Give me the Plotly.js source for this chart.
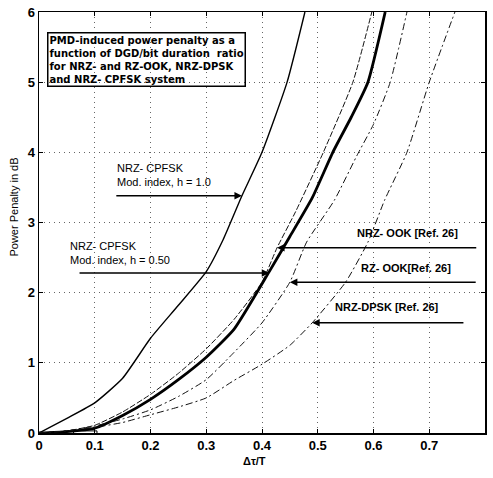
<!DOCTYPE html>
<html>
<head>
<meta charset="utf-8">
<script src="https://cdn.plot.ly/plotly-3.0.1.min.js"></script>
<style>
html,body{margin:0;padding:0;background:#fff;}
#chart{width:493px;height:478px;}
</style>
</head>
<body>
<div id="chart"></div>
<script>
// ---- data ----
const cpfsk10X = [0, 0.05, 0.1, 0.15, 0.2, 0.25, 0.3, 0.33, 0.364, 0.4, 0.445, 0.477];
const cpfsk10Y = [0, 0.21, 0.43, 0.78, 1.35, 1.82, 2.3, 2.75, 3.38, 4.0, 5.0, 6.0];

const cpfsk05X = [0, 0.05, 0.1, 0.15, 0.2, 0.25, 0.3, 0.35, 0.413, 0.45, 0.49, 0.527, 0.56, 0.59, 0.621];
const cpfsk05Y = [0, 0.02, 0.07, 0.25, 0.48, 0.76, 1.08, 1.48, 2.3, 2.8, 3.35, 4.0, 4.5, 5.0, 6.0];

const nrzOokX = [0, 0.05, 0.1, 0.15, 0.2, 0.25, 0.3, 0.35, 0.4, 0.427, 0.46, 0.51, 0.563, 0.597];
const nrzOokY = [0, 0.03, 0.11, 0.3, 0.55, 0.85, 1.2, 1.62, 2.15, 2.64, 3.15, 4.0, 5.0, 6.0];

const rzOokX = [0, 0.05, 0.1, 0.15, 0.2, 0.25, 0.3, 0.35, 0.4, 0.45, 0.48, 0.53, 0.57, 0.6, 0.63, 0.66];
const rzOokY = [0, 0.03, 0.1, 0.2, 0.33, 0.52, 0.76, 1.15, 1.57, 2.15, 2.72, 3.32, 3.95, 4.4, 5.0, 6.0];

const dpskX = [0, 0.05, 0.1, 0.15, 0.2, 0.25, 0.3, 0.35, 0.4, 0.45, 0.49, 0.55, 0.59, 0.62, 0.66, 0.7, 0.746];
const dpskY = [0, 0.03, 0.08, 0.15, 0.26, 0.37, 0.5, 0.75, 0.98, 1.25, 1.57, 2.15, 2.72, 3.32, 4.0, 5.0, 6.0];

const xTickVals = [0, 0.1, 0.2, 0.3, 0.4, 0.5, 0.6, 0.7, 0.8];
const xTickText = ["0", "0.1", "0.2", "0.3", "0.4", "0.5", "0.6", "0.7", "0.8"];
const yTickVals = [0, 1, 2, 3, 4, 5, 6];
const yTickText = ["0", "1", "2", "3", "4", "5", "6"];

const boxText = "PMD-induced power penalty as a<br>function of DGD/bit duration  ratio<br>for NRZ- and RZ-OOK, NRZ-DPSK<br>and NRZ- CPFSK system";
const labelH10 = "NRZ- CPFSK<br>Mod. index, h = 1.0";
const labelH05 = "NRZ- CPFSK<br>Mod. index, h = 0.50";
const labelNrzOok = "NRZ- OOK [Ref. 26]";
const labelRzOok = "RZ- OOK[Ref. 26]";
const labelDpsk = "NRZ-DPSK [Ref. 26]";
const xTitle = "Δτ/T";
const yTitle = "Power Penalty in dB";

// ---- traces ----
const sm = 0.5;
const traces = [
  {x: cpfsk10X, y: cpfsk10Y, mode: "lines", line: {color: "#000", width: 1.4, shape: "spline", smoothing: sm}},
  {x: nrzOokX, y: nrzOokY, mode: "lines", line: {color: "#111", width: 1, dash: "6px,2px", shape: "spline", smoothing: sm}},
  {x: cpfsk05X, y: cpfsk05Y, mode: "lines", line: {color: "#000", width: 2.8, shape: "spline", smoothing: sm}},
  {x: rzOokX, y: rzOokY, mode: "lines", line: {color: "#111", width: 1, dash: "7px,3px,2px,3px", shape: "spline", smoothing: sm}},
  {x: dpskX, y: dpskY, mode: "lines", line: {color: "#111", width: 1, dash: "7px,3px,2px,3px", shape: "spline", smoothing: sm}}
];

const F = "Arial, 'Liberation Sans', sans-serif";

function arrow(x, y, ax, ay) {
  return {x: x, y: y, ax: ax, ay: ay, xref: "x", yref: "y", axref: "x", ayref: "y",
    text: "", showarrow: true, arrowhead: 2, arrowsize: 1, arrowwidth: 1.5, arrowcolor: "#000",
    standoff: 0, startstandoff: 0};
}

const layout = {
  width: 493, height: 478,
  margin: {l: 39, r: 8, t: 12, b: 45},
  paper_bgcolor: "#fff", plot_bgcolor: "#fff",
  showlegend: false,
  font: {family: F, color: "#000"},
  xaxis: {
    range: [0, 0.8], tickvals: xTickVals, ticktext: xTickText,
    showgrid: true, gridcolor: "#666", gridwidth: 1, griddash: "1px,4px",
    zeroline: false, showline: true, mirror: "ticks", linecolor: "#000", linewidth: 1.5,
    ticks: "inside", ticklen: 4, tickcolor: "#000",
    tickfont: {family: F, size: 13, color: "#000", weight: "bold"}
  },
  yaxis: {
    range: [0, 6], tickvals: yTickVals, ticktext: yTickText,
    showgrid: true, gridcolor: "#666", gridwidth: 1, griddash: "1px,4px",
    zeroline: false, showline: true, mirror: "ticks", linecolor: "#000", linewidth: 1.5,
    ticks: "inside", ticklen: 4, tickcolor: "#000",
    tickfont: {family: F, size: 13, color: "#000", weight: "bold"}
  },
  shapes: [
    {type: "rect", xref: "x", yref: "y", x0: 0.062, x1: 0.104, y0: -0.03, y1: 0.03,
     line: {color: "#000", width: 1}}
  ],
  annotations: [
    {x: 0.0144, y: 5.71, xref: "x", yref: "y", xanchor: "left", yanchor: "top", align: "left",
     text: boxText, showarrow: false, bordercolor: "#000", borderwidth: 1.5, borderpad: 1,
     font: {family: "'DejaVu Sans', sans-serif", size: 10, weight: "bold", color: "#000"}},
    {x: 0.136, y: 3.67, xref: "x", yref: "y", xanchor: "left", yanchor: "middle", align: "left",
     text: labelH10, showarrow: false, font: {family: F, size: 11, color: "#000"}},
    {x: 0.052, y: 2.565, xref: "x", yref: "y", xanchor: "left", yanchor: "middle", align: "left",
     text: labelH05, showarrow: false, font: {family: F, size: 11, color: "#000"}},
    {x: 0.566, y: 2.85, xref: "x", yref: "y", xanchor: "left", yanchor: "middle", align: "left",
     text: labelNrzOok, showarrow: false, font: {family: F, size: 11, weight: "bold", color: "#000"}},
    {x: 0.574, y: 2.35, xref: "x", yref: "y", xanchor: "left", yanchor: "middle", align: "left",
     text: labelRzOok, showarrow: false, font: {family: F, size: 11, weight: "bold", color: "#000"}},
    {x: 0.527, y: 1.80, xref: "x", yref: "y", xanchor: "left", yanchor: "middle", align: "left",
     text: labelDpsk, showarrow: false, font: {family: F, size: 11, weight: "bold", color: "#000"}},
    arrow(0.364, 3.38, 0.136, 3.38),
    arrow(0.413, 2.28, 0.070, 2.28),
    arrow(0.427, 2.64, 0.787, 2.64),
    arrow(0.450, 2.15, 0.786, 2.15),
    arrow(0.490, 1.57, 0.764, 1.57),
    {x: 0.387, y: -0.066, xref: "x", yref: "paper", xanchor: "center", yanchor: "middle",
     text: xTitle, showarrow: false, font: {family: F, size: 11, weight: "bold", color: "#000"}},
    {x: -0.055, y: 3.22, xref: "paper", yref: "y", xanchor: "center", yanchor: "middle",
     text: yTitle, textangle: -90, showarrow: false, font: {family: F, size: 11, color: "#000"}}
  ]
};

Plotly.newPlot("chart", traces, layout, {displayModeBar: false, staticPlot: true});
</script>
</body>
</html>
